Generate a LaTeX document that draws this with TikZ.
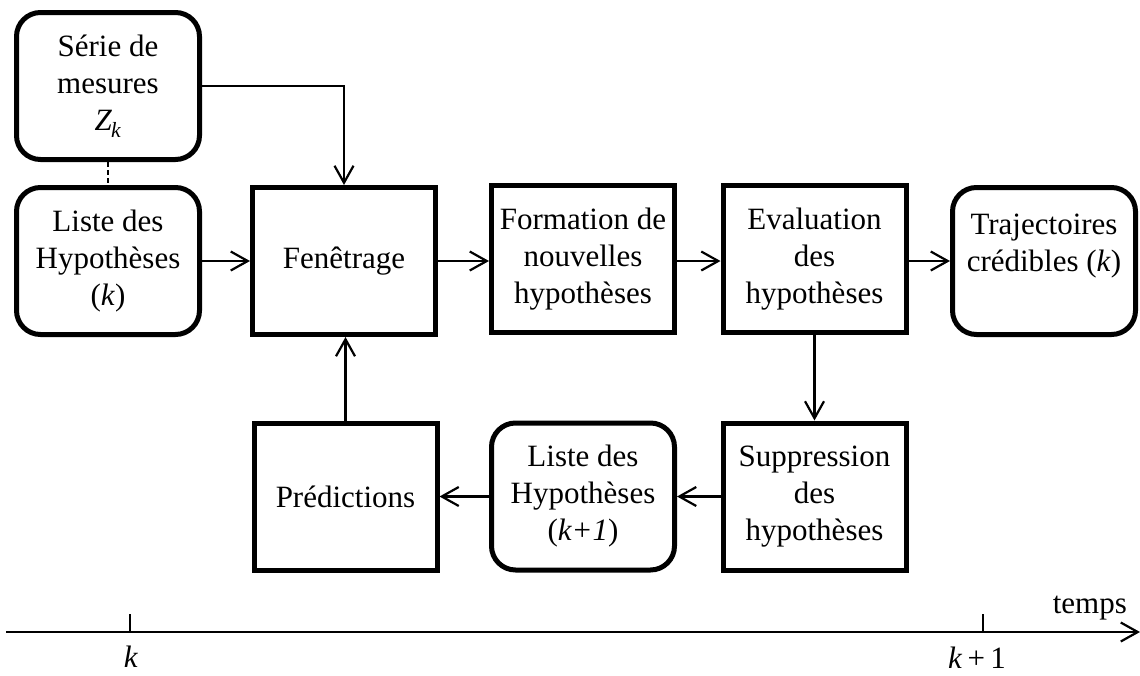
\documentclass[tikz,border=0pt]{standalone}
\usepackage{fontspec}
\setmainfont{Liberation Serif}
\usetikzlibrary{arrows.meta}
\tikzset{
  base/.style={draw, line width=5pt, minimum width=183pt, minimum height=147pt, align=center, inner sep=2pt, font=\fontsize{31}{37}\selectfont},
  sqbox/.style={base},
  rbox/.style={base, rounded corners=24pt},
  conn/.style={line width=2.2pt, -{Straight Barb[length=17pt,width=19pt,line width=2.2pt]}},
  lab/.style={font=\fontsize{31}{37}\selectfont, inner sep=0pt},
}
\begin{document}
\begin{tikzpicture}[x=1pt,y=-1pt]
\useasboundingbox (0,0) rectangle (1140,675);
\node[rbox] (serie) at (108,86) {Série de\\mesures\\\textit{Z}\textsubscript{\kern-1pt\textit{k}}};
\node[rbox] (liste) at (108,261) {Liste des\\Hypothèses\\(\textit{k})};
\node[sqbox] (fen) at (344,261) {Fenêtrage};
\node[sqbox] (form) at (583,259) {Formation de\\nouvelles\\hypothèses};
\node[sqbox] (eval) at (814.5,259) {Evaluation\\des\\hypothèses};
\node[rbox] (traj) at (1044,261) {Trajectoires\\crédibles (\textit{k})\\\mbox{}};
\node[sqbox] (supp) at (814.5,496.5) {Suppression\\des\\hypothèses};
\node[rbox] (liste1) at (583,496.5) {Liste des\\Hypothèses\\(\textit{k+1})};
\node[sqbox] (pred) at (345.5,496.5) {Prédictions};
\draw[line width=2pt, dash pattern=on 5pt off 3pt] (serie.south) -- (liste.north);
\draw[conn] (serie.east) -| (fen.north);
\draw[conn] (liste) -- (fen);
\draw[conn] (fen.east) -- (form.west |- fen.east);
\draw[conn] (form.east |- fen.east) -- (eval.west |- fen.east);
\draw[conn] (eval.east |- fen.east) -- (traj.west);
\draw[conn] (eval.south) -- (supp.north);
\draw[conn] (supp) -- (liste1);
\draw[conn] (liste1) -- (pred);
\draw[conn] (pred.north) -- (pred.north |- fen.south);
% time axis
\coordinate (ax0) at (6,632);
\coordinate (ax1) at (1140,632);
\coordinate (t0) at (130,632);
\coordinate (t1) at (983,632);
\draw[conn] (ax0) -- (ax1);
\draw[line width=1.3pt] (t0) -- ++(0,-18);
\draw[line width=1.3pt] (t1) -- ++(0,-18);
\node[lab, anchor=base] (lk) at (131,667) {\textit{k}};
\node[lab, anchor=base] (lk1) at (977,668) {\textit{k}\,+\,1};
\node[lab, anchor=base east] (temps) at (1127,613) {temps};
\end{tikzpicture}
\end{document}
